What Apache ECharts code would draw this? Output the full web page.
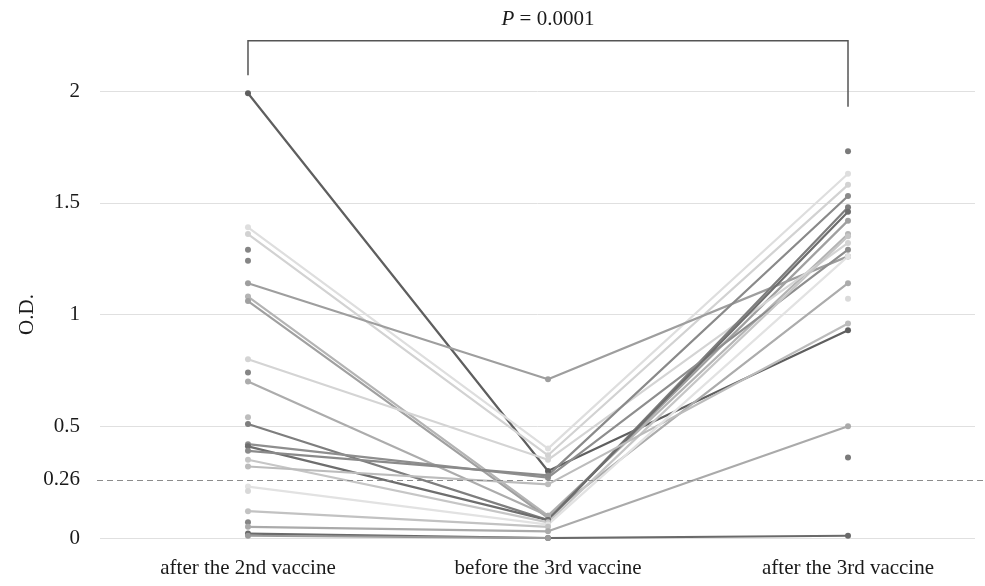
<!DOCTYPE html>
<html>
<head>
<meta charset="utf-8">
<script src="https://cdn.jsdelivr.net/npm/echarts@6/dist/echarts.min.js"></script>
<style>
html,body{margin:0;padding:0;background:#fff;}
#chart{width:985px;height:586px;}
</style>
</head>
<body>
<div id="chart"></div>
<script>
// ---- data ----
const categories = ['after the 2nd vaccine', 'before the 3rd vaccine', 'after the 3rd vaccine'];
const categoryIndex = [0, 1, 2];
const yTickLabels = [0, 0.26, 0.5, 1, 1.5, 2];
const yTitle = 'O.D.';
const cutoff = 0.26;
const pText = '{i|P} = 0.0001';
// one entry per subject (null = missing measurement)
const afterSecond = [1.99, 1.39, 1.36, 1.29, 1.24, 1.14, 1.08, 1.06, 0.80, 0.74, 0.70, 0.54, 0.51, 0.42, 0.41, 0.39, 0.35, 0.32, 0.23, 0.21, 0.12, 0.07, 0.05, 0.02, 0.01, null, null, null];
const beforeThird = [0.30, 0.40, 0.37, null, null, 0.71, 0.10, 0.09, 0.35, null, 0.10, null, 0.08, 0.27, 0.08, 0.28, 0.07, 0.24, 0.06, null, 0.05, null, 0.03, 0.00, 0.00, null, null, null];
const afterThird  = [0.93, 1.63, 1.58, null, null, 1.26, 1.36, 1.42, 1.32, null, 1.14, null, 1.48, 1.29, 1.46, 1.53, 1.35, 0.96, 1.26, null, null, null, 0.50, 0.01, null, 1.73, 1.07, 0.36];

// ---- styles ----
const shades = ['#5f5f5f', '#dedede', '#d2d2d2', '#858585', '#858585', '#9e9e9e', '#b4b4b4', '#a0a0a0', '#d4d4d4', '#858585', '#acacac', '#bdbdbd', '#7e7e7e', '#8e8e8e', '#6e6e6e', '#8a8a8a', '#c6c6c6', '#bcbcbc', '#e2e2e2', '#d8d8d8', '#c2c2c2', '#858585', '#aaaaaa', '#6a6a6a', '#9a9a9a', '#7a7a7a', '#dadada', '#7a7a7a'];
const FONT = '"Liberation Serif", "DejaVu Serif", serif';
const FS = 21;
const YMAX = 2.2;
const XMIN = -0.4933, XMAX = 2.4233;

const chart = echarts.init(document.getElementById('chart'), null, {renderer: 'canvas'});

const series = [];
afterSecond.forEach((v, i) => {
  const vals = [v, beforeThird[i], afterThird[i]];
  series.push({
    type: 'line',
    xAxisIndex: 0, yAxisIndex: 0,
    data: categoryIndex.map((c, k) => [c, vals[k]]),
    connectNulls: false,
    symbol: 'circle', symbolSize: 6, showSymbol: true, showAllSymbol: true,
    lineStyle: {color: shades[i], width: 2.2},
    itemStyle: {color: shades[i]},
    silent: true, z: 3
  });
});
// cutoff line hosted in a second, wider grid
series.push({
  type: 'line', xAxisIndex: 1, yAxisIndex: 1, data: [], silent: true, z: 1,
  markLine: {
    silent: true, symbol: ['none', 'none'], label: {show: false},
    lineStyle: {color: '#8c8c8c', type: [6, 4], width: 1},
    data: [{yAxis: cutoff}]
  }
});

chart.setOption({
  animation: false,
  backgroundColor: '#ffffff',
  grid: [
    {left: 100, right: 10, top: 538 - YMAX * 223.5, bottom: 48},
    {left: 97, right: 0, top: 538 - YMAX * 223.5, bottom: 48}
  ],
  xAxis: [
    {type: 'value', gridIndex: 0, min: XMIN, max: XMAX,
     axisLine: {show: false}, axisTick: {show: false}, splitLine: {show: false},
     axisLabel: {color: '#1a1a1a', fontFamily: FONT, fontSize: FS, margin: 20,
                 customValues: categoryIndex, formatter: v => categories[Math.round(v)]}},
    {type: 'value', gridIndex: 1, min: 0, max: 1, show: false}
  ],
  yAxis: [
    {type: 'value', gridIndex: 0, min: 0, max: YMAX, interval: 0.5,
     axisLine: {show: false}, axisTick: {show: false},
     axisLabel: {color: '#1a1a1a', fontFamily: FONT, fontSize: FS, margin: 20,
                 customValues: yTickLabels},
     splitLine: {show: true, showMaxLine: false, lineStyle: {color: '#e0e0e0', width: 1}}},
    {type: 'value', gridIndex: 1, min: 0, max: YMAX, show: false, splitLine: {show: false}}
  ],
  series: series
});

// significance bracket and axis title (annotations), positioned through the axes
function drawAnnotations() {
  const xL = chart.convertToPixel({xAxisIndex: 0}, categoryIndex[0]);
  const xR = chart.convertToPixel({xAxisIndex: 0}, categoryIndex[2]);
  const yTop = chart.convertToPixel({yAxisIndex: 0}, 2.225);
  const yLeftEnd = chart.convertToPixel({yAxisIndex: 0}, 2.07);
  const yRightEnd = chart.convertToPixel({yAxisIndex: 0}, 1.93);
  const yMid = chart.convertToPixel({yAxisIndex: 0}, 1);
  chart.setOption({
    graphic: [
      {type: 'polyline', silent: true, z: 10,
       shape: {points: [[xL, yLeftEnd], [xL, yTop], [xR, yTop], [xR, yRightEnd]]},
       style: {stroke: '#555555', lineWidth: 1.5, fill: null}},
      {type: 'text', silent: true, z: 10, x: (xL + xR) / 2, y: yTop - 21,
       style: {text: pText, fill: '#1a1a1a', font: FS + 'px ' + FONT, align: 'center', verticalAlign: 'middle',
               rich: {i: {fontStyle: 'italic', fontFamily: FONT, fontSize: FS, fill: '#1a1a1a'}}}},
      {type: 'text', silent: true, z: 10, x: 27, y: yMid, rotation: Math.PI / 2,
       style: {text: yTitle, fill: '#1a1a1a', font: FS + 'px ' + FONT, align: 'center', verticalAlign: 'middle'}}
    ]
  });
}
drawAnnotations();
</script>
</body>
</html>
